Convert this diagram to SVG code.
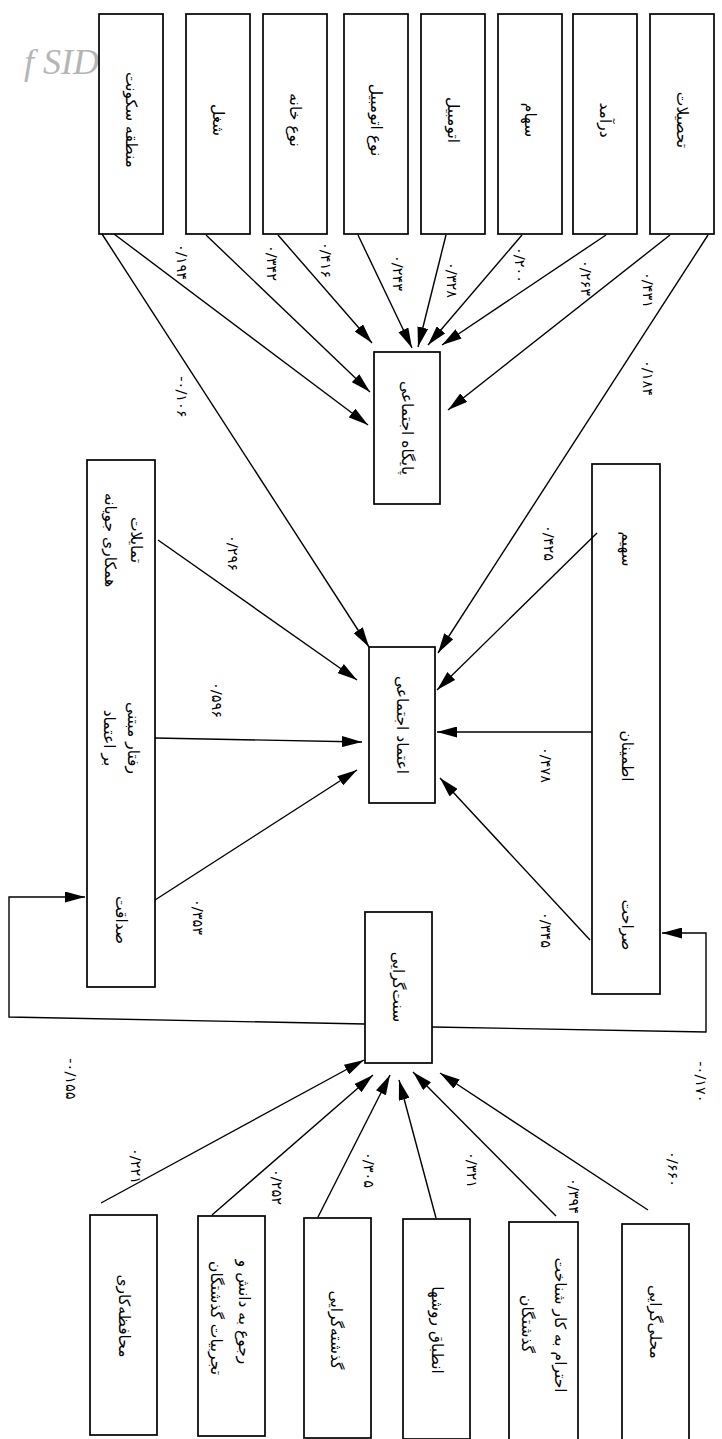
<svg xmlns="http://www.w3.org/2000/svg" width="722" height="1439" viewBox="0 0 722 1439">
<style>
.bg{fill:#fff}
.box{fill:#fff;stroke:#000;stroke-width:1.7}
.t{font-family:"DejaVu Sans","Noto Sans",sans-serif;font-size:15.5px;text-anchor:middle;dominant-baseline:central;fill:#000}
.n{font-family:"DejaVu Sans","Noto Sans",sans-serif;font-size:14.5px;text-anchor:middle;dominant-baseline:central;fill:#000}
.c line,.c polyline{stroke:#000;stroke-width:1.4;fill:none;marker-end:url(#ah)}
.wm{font-family:"Liberation Serif",serif;font-style:italic;font-size:36px;fill:#b5b5b5}
</style>
<defs>
<marker id="ah" viewBox="0 0 20 11" refX="20" refY="5.5" markerWidth="20" markerHeight="11" orient="auto" markerUnits="userSpaceOnUse"><path d="M0,0 L20,5.5 L0,11 z" fill="#000"/></marker>
</defs>
<rect class="bg" x="0" y="0" width="722" height="1439"/>
<text class="wm" x="24" y="74">f SID</text>

<g id="n-mantaghe"><rect class="box" x="99" y="14" width="64" height="220"/><text class="t" transform="translate(131,120) rotate(90)">منطقه سکونت</text></g>
<g id="n-shoghl"><rect class="box" x="186" y="14" width="64" height="220"/><text class="t" transform="translate(218,120) rotate(90)">شغل</text></g>
<g id="n-khane"><rect class="box" x="263" y="14" width="64" height="220"/><text class="t" transform="translate(295,120) rotate(90)">نوع خانه</text></g>
<g id="n-noe-otomobil"><rect class="box" x="344" y="14" width="64" height="220"/><text class="t" transform="translate(376,120) rotate(90)">نوع اتومبیل</text></g>
<g id="n-otomobil"><rect class="box" x="421" y="14" width="64" height="220"/><text class="t" transform="translate(453,120) rotate(90)">اتومبیل</text></g>
<g id="n-saham"><rect class="box" x="498" y="14" width="64" height="220"/><text class="t" transform="translate(530,120) rotate(90)">سهام</text></g>
<g id="n-daramad"><rect class="box" x="573" y="14" width="64" height="220"/><text class="t" transform="translate(605,120) rotate(90)">درآمد</text></g>
<g id="n-tahsilat"><rect class="box" x="650" y="14" width="64" height="220"/><text class="t" transform="translate(682,120) rotate(90)">تحصیلات</text></g>

<g id="n-paygah"><rect class="box" x="374" y="352" width="66" height="152"/><text class="t" transform="translate(407,428) rotate(90)">پایگاه اجتماعی</text></g>
<g id="n-etemad"><rect class="box" x="369" y="647" width="66" height="156"/><text class="t" transform="translate(402,725) rotate(90)">اعتماد اجتماعی</text></g>
<g id="n-sonnat"><rect class="box" x="365" y="912" width="67" height="151"/><text class="t" transform="translate(398,987) rotate(90)">سنت‌گرایی</text></g>

<g id="n-left"><rect class="box" x="87" y="460" width="68" height="527"/>
<text class="t" transform="translate(136,540) rotate(90)">تمایلات</text>
<text class="t" transform="translate(110,540) rotate(90)">همکاری جویانه</text>
<text class="t" transform="translate(133,738) rotate(90)">رفتار مبتنی</text>
<text class="t" transform="translate(109,738) rotate(90)">بر اعتماد</text>
<text class="t" transform="translate(121,920) rotate(90)">صداقت</text></g>

<g id="n-right"><rect class="box" x="592" y="464" width="68" height="530"/>
<text class="t" transform="translate(627,549) rotate(90)">سهیم</text>
<text class="t" transform="translate(627,756) rotate(90)">اطمینان</text>
<text class="t" transform="translate(627,925) rotate(90)">صراحت</text></g>

<g id="n-mohafeze"><rect class="box" x="90" y="1215" width="67" height="220"/><text class="t" transform="translate(123.5,1316) rotate(90)">محافظه‌کاری</text></g>
<g id="n-rojou"><rect class="box" x="198" y="1216" width="67" height="220"/><text class="t" transform="translate(244,1312) rotate(90)">رجوع به دانش و</text><text class="t" transform="translate(216,1318) rotate(90)">تجربیات گذشتگان</text></g>
<g id="n-gozashte"><rect class="box" x="304" y="1218" width="67" height="220"/><text class="t" transform="translate(336,1330) rotate(90)">گذشته‌گرایی</text></g>
<g id="n-entebagh"><rect class="box" x="403" y="1219" width="67" height="220"/><text class="t" transform="translate(437,1330) rotate(90)">انطباق روشها</text></g>
<g id="n-ehteram"><rect class="box" x="509" y="1222" width="69" height="220"/><text class="t" transform="translate(560,1325) rotate(90)">احترام به کار شناخت</text><text class="t" transform="translate(527,1324) rotate(90)">گذشتگان</text></g>
<g id="n-mahali"><rect class="box" x="622" y="1224" width="67" height="220"/><text class="t" transform="translate(655,1322) rotate(90)">محلی‌گرایی</text></g>

<g id="connectors" class="c">
<line x1="114" y1="234" x2="368" y2="425"/>
<line x1="206" y1="235" x2="370" y2="392"/>
<line x1="278" y1="235" x2="372" y2="343"/>
<line x1="358" y1="235" x2="412" y2="348"/>
<line x1="446" y1="235" x2="418" y2="347"/>
<line x1="522" y1="235" x2="428" y2="345"/>
<line x1="606" y1="235" x2="442" y2="345"/>
<line x1="670" y1="235" x2="448" y2="410"/>
<line x1="102" y1="234" x2="369" y2="647"/>
<line x1="708" y1="235" x2="438" y2="653"/>
<line x1="158" y1="540" x2="357" y2="680"/>
<line x1="155" y1="738" x2="362" y2="742"/>
<line x1="155" y1="900" x2="357" y2="770"/>
<line x1="597" y1="533" x2="437" y2="690"/>
<line x1="592" y1="732" x2="437" y2="732"/>
<line x1="590" y1="940" x2="440" y2="778"/>
<line x1="101" y1="1203" x2="364" y2="1060"/>
<line x1="212" y1="1215" x2="373" y2="1075"/>
<line x1="318" y1="1217" x2="390" y2="1075"/>
<line x1="436" y1="1218" x2="399" y2="1080"/>
<line x1="556" y1="1216" x2="413" y2="1072"/>
<line x1="648" y1="1210" x2="440" y2="1073"/>
<polyline points="365,1024 9,1017 9,897 85,897"/>
<polyline points="432,1027 706,1032 706,933 662,933"/>
</g>

<g id="weights">
<text class="n" transform="translate(182,262) rotate(90)">۰/۱۹۴</text>
<text class="n" transform="translate(272,263) rotate(90)">۰/۳۴۲</text>
<text class="n" transform="translate(326,260) rotate(90)">۰/۴۱۶</text>
<text class="n" transform="translate(398,273) rotate(90)">۰/۲۴۳</text>
<text class="n" transform="translate(452,280) rotate(90)">۰/۳۲۸</text>
<text class="n" transform="translate(520,265) rotate(90)">۰/۲۰۰</text>
<text class="n" transform="translate(586,278) rotate(90)">۰/۲۶۳</text>
<text class="n" transform="translate(648,290) rotate(90)">۰/۴۳۱</text>
<text class="n" transform="translate(182,397) rotate(90)">-۰/۱۰۶</text>
<text class="n" transform="translate(648,378) rotate(90)">۰/۱۸۴</text>
<text class="n" transform="translate(233,553) rotate(90)">۰/۲۹۶</text>
<text class="n" transform="translate(217,700) rotate(90)">۰/۵۹۶</text>
<text class="n" transform="translate(198,917) rotate(90)">۰/۳۵۳</text>
<text class="n" transform="translate(549,543) rotate(90)">۰/۴۲۵</text>
<text class="n" transform="translate(546,765) rotate(90)">۰/۴۷۸</text>
<text class="n" transform="translate(546,930) rotate(90)">۰/۳۴۵</text>
<text class="n" transform="translate(71,1079) rotate(90)">-۰/۱۵۵</text>
<text class="n" transform="translate(701,1082) rotate(90)">-۰/۱۷۰</text>
<text class="n" transform="translate(136,1166) rotate(90)">۰/۲۲۱</text>
<text class="n" transform="translate(277,1187) rotate(90)">۰/۲۵۲</text>
<text class="n" transform="translate(369,1170) rotate(90)">۰/۳۰۵</text>
<text class="n" transform="translate(472,1170) rotate(90)">۰/۳۲۱</text>
<text class="n" transform="translate(574,1196) rotate(90)">۰/۳۹۴</text>
<text class="n" transform="translate(673,1169) rotate(90)">۰/۶۶۰</text>
</g>
</svg>
